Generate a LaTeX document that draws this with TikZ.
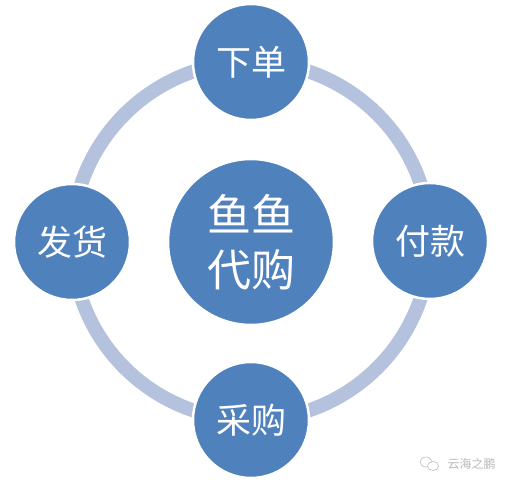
\documentclass[tikz,border=0pt]{standalone}
\usepackage{fontspec}
\newfontfamily\cjk{Noto Sans CJK SC}
\definecolor{ringblue}{RGB}{180,194,221}
\definecolor{nodeblue}{RGB}{79,129,189}
\definecolor{markgray}{RGB}{185,185,185}
\begin{document}
\begin{tikzpicture}[x=1pt, y=1pt,
  step circle/.style={circle, fill=nodeblue, draw=white, line width=2.5pt, minimum size=116pt, inner sep=0pt, text=white, font=\cjk\fontsize{35}{40}\selectfont},
  hub circle/.style={circle, fill=nodeblue, draw=white, line width=2.5pt, minimum size=166pt, inner sep=0pt, text=white, align=center, font=\cjk\fontsize{44}{55}\selectfont}]
\useasboundingbox (0,0) rectangle (511,486);
% ring behind the steps
\coordinate (mid) at (251,245);
\draw[ringblue, line width=14pt] (mid) circle[radius=179];
% steps round the ring
\node[step circle] (order) at (251,424) {下单};
\node[step circle] (pay) at (430,245) {付款};
\node[step circle] (buy) at (251,66) {采购};
\node[step circle] (ship) at (72,244) {发货};
% hub
\node[hub circle] (hub) at (251,244) {鱼鱼\\代购};
% watermark
\draw[markgray, line width=0.6pt] (426,24) ellipse[x radius=6, y radius=5];
\draw[markgray, line width=0.6pt, fill=white] (433,20) ellipse[x radius=5.5, y radius=4.5];
\node[text=markgray, font=\cjk\fontsize{12}{14}\selectfont, anchor=west] (mark) at (444,22) {云海之鹏};
\end{tikzpicture}
\end{document}
